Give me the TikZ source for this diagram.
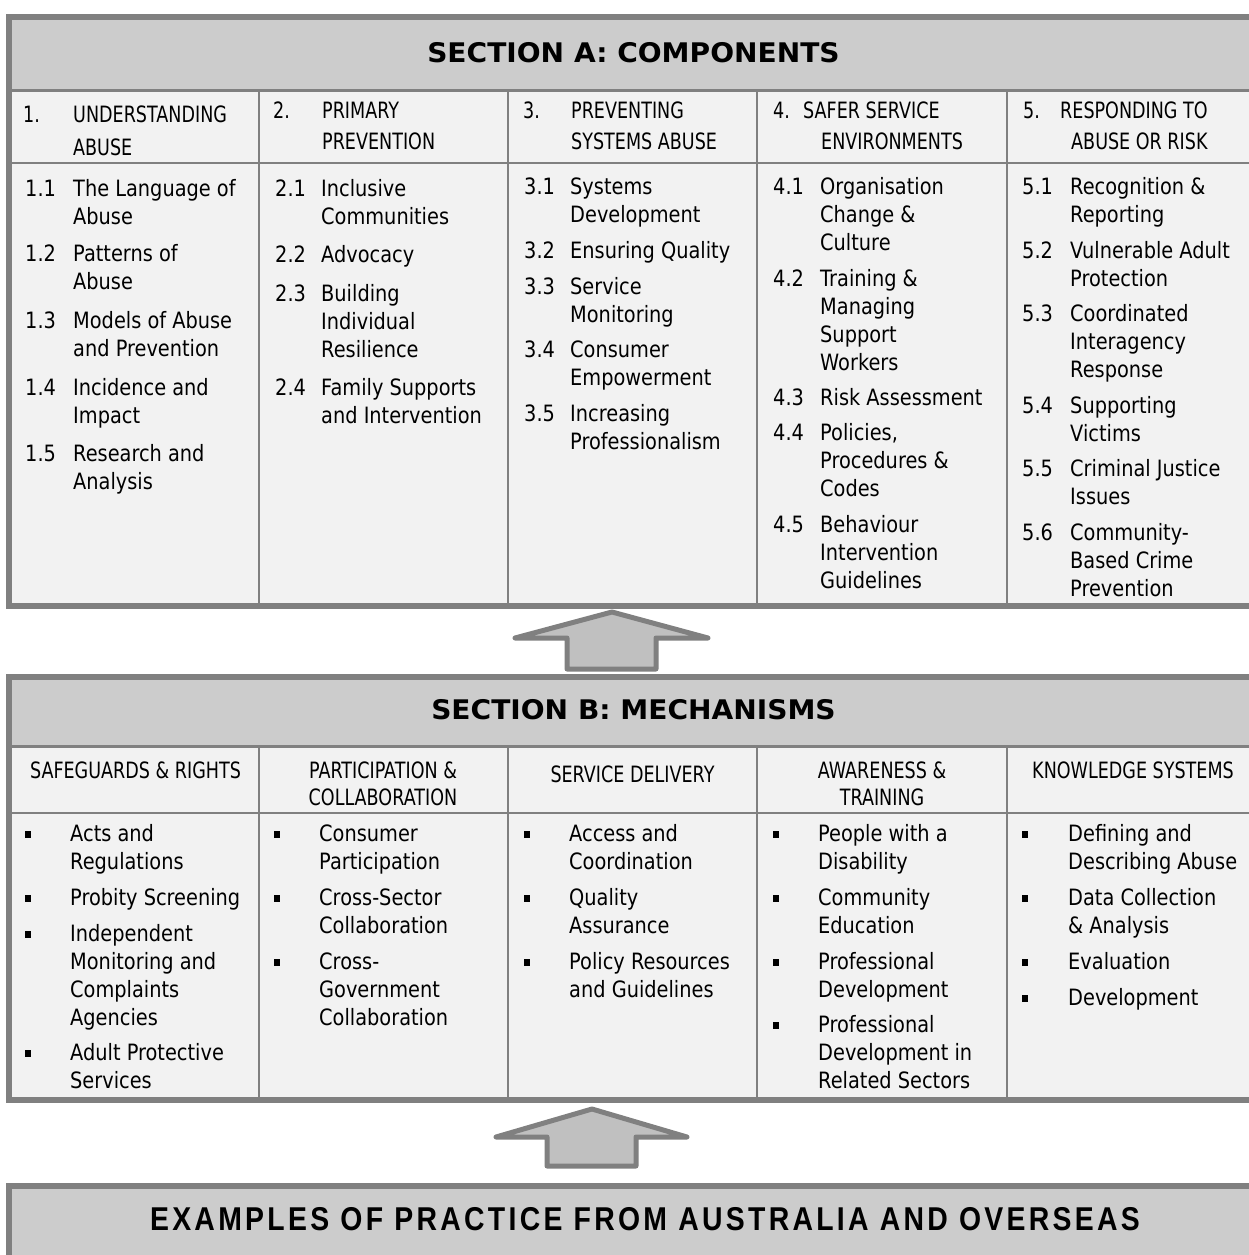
\documentclass[tikz,border=0pt]{standalone}
\usepackage{fontspec}
\setmainfont{DejaVu Sans}
\newfontfamily\bodyf{DejaVu Sans}[FakeStretch=0.86]
\newfontfamily\headf{DejaVu Sans}[FakeStretch=0.78]
\newfontfamily\titlef{DejaVu Sans}[FakeStretch=1.04]
\newfontfamily\exf{Liberation Sans}[FakeStretch=0.86,LetterSpace=10]

\definecolor{rim}{HTML}{808080}
\definecolor{band}{HTML}{CCCCCC}
\definecolor{cell}{HTML}{F2F2F2}
\definecolor{arrowfill}{HTML}{C0C0C0}

\tikzset{
  rimline/.style={draw=rim, line width=6pt},
  gridline/.style={draw=rim, line width=2pt},
  uparrow/.style={draw=rim, fill=arrowfill, line width=5pt, line join=round},
  bodytxt/.style={anchor=base west, inner sep=0pt, font=\bodyf\fontsize{22.5}{27}\selectfont},
  headtxt/.style={anchor=base west, inner sep=0pt, font=\headf\fontsize{22.5}{27}\selectfont},
  headmid/.style={headtxt, anchor=base},
  titletxt/.style={anchor=base, inner sep=0pt, font=\titlef\bfseries\fontsize{27}{32}\selectfont},
  extxt/.style={anchor=base, inner sep=0pt, font=\exf\bfseries\fontsize{33}{38}\selectfont},
}

% numbered entry: name, x of number, x of text, first baseline, number, lines
\newcommand\compitem[6]{%
  \node[bodytxt] (#1) at (#2,#4) {#5};
  \foreach \rowtext [count=\k from 0] in {#6} {
    \node[bodytxt] (#1-\k) at (#3,{#4+28*\k}) {\rowtext};
  }%
}
% bulleted entry: name, x of bullet, x of text, first baseline, lines
\newcommand\mechitem[5]{%
  \node[bodytxt] (#1) at (#2,#4) {\rule[3.5pt]{6pt}{6.5pt}};
  \foreach \rowtext [count=\k from 0] in {#5} {
    \node[bodytxt] (#1-\k) at (#3,{#4+28*\k}) {\rowtext};
  }%
}

\begin{document}
\begin{tikzpicture}[x=1pt, y=-1pt]
\useasboundingbox (0,0) rectangle (1249,1255);
\clip (0,0) rectangle (1249,1255);

% ---------- Section A frame ----------
\fill[cell] (9,17) rectangle (1258,605.5);
\fill[band] (9,17) rectangle (1258,90.5);
\draw[gridline, line width=2.5pt] (9,90.5) -- (1258,90.5);
\draw[gridline] (9,163) -- (1258,163);
\foreach \cx in {258.5,508,757,1007}
  \draw[gridline] (\cx,90.5) -- (\cx,605.5);
\draw[rimline] (9,17) rectangle (1258,605.5);

% ---------- Section B frame ----------
\fill[cell] (9,677) rectangle (1258,1100);
\fill[band] (9,677) rectangle (1258,746.5);
\draw[gridline, line width=2.5pt] (9,746.5) -- (1258,746.5);
\draw[gridline] (9,813) -- (1258,813);
\foreach \cx in {258.5,508,757,1007}
  \draw[gridline] (\cx,746.5) -- (\cx,1100);
\draw[rimline] (9,677) rectangle (1258,1100);

% ---------- bottom band ----------
\fill[band] (9,1185.5) rectangle (1258,1275);
\draw[rimline] (9,1185.5) rectangle (1258,1275);

% ---------- arrows ----------
\draw[uparrow] (612,612) -- (708,638) -- (656,638) -- (656,669) -- (567,669)
  -- (567,638) -- (515,638) -- cycle;
\draw[uparrow] (592,1109) -- (687,1137) -- (636,1137) -- (636,1166) -- (547,1166)
  -- (547,1137) -- (496,1137) -- cycle;

% ---------- titles ----------
\node[titletxt] (titleA) at (633.5,63) {SECTION A: COMPONENTS};
\node[titletxt] (titleB) at (633.5,719) {SECTION B: MECHANISMS};
\node[extxt] (examples) at (645,1230) {EXAMPLES OF PRACTICE FROM AUSTRALIA AND OVERSEAS};

% ---------- Section A column heads ----------
\node[headtxt] (h1n) at (23,122) {1.};
\node[headtxt] (h1a) at (73,122) {UNDERSTANDING};
\node[headtxt] (h1b) at (73,155) {ABUSE};
\node[headtxt] (h2n) at (273,118) {2.};
\node[headtxt] (h2a) at (322,118) {PRIMARY};
\node[headtxt] (h2b) at (322,149) {PREVENTION};
\node[headtxt] (h3n) at (523,118) {3.};
\node[headtxt] (h3a) at (571,118) {PREVENTING};
\node[headtxt] (h3b) at (571,149) {SYSTEMS ABUSE};
\node[headtxt] (h4n) at (773,118) {4.};
\node[headtxt] (h4a) at (803,118) {SAFER SERVICE};
\node[headtxt] (h4b) at (821,149) {ENVIRONMENTS};
\node[headtxt] (h5n) at (1023,118) {5.};
\node[headtxt] (h5a) at (1060,118) {RESPONDING TO};
\node[headtxt] (h5b) at (1071,149) {ABUSE OR RISK};

% ---------- Section A entries ----------
\compitem{a11}{25}{73}{196}{1.1}{The Language of, Abuse}
\compitem{a12}{25}{73}{261}{1.2}{Patterns of, Abuse}
\compitem{a13}{25}{73}{328}{1.3}{Models of Abuse, and Prevention}
\compitem{a14}{25}{73}{395}{1.4}{Incidence and, Impact}
\compitem{a15}{25}{73}{461}{1.5}{Research and, Analysis}

\compitem{a21}{275}{321}{196}{2.1}{Inclusive, Communities}
\compitem{a22}{275}{321}{262}{2.2}{Advocacy}
\compitem{a23}{275}{321}{301}{2.3}{Building, Individual, Resilience}
\compitem{a24}{275}{321}{395}{2.4}{Family Supports, and Intervention}

\compitem{a31}{524}{570}{194}{3.1}{Systems, Development}
\compitem{a32}{524}{570}{258}{3.2}{Ensuring Quality}
\compitem{a33}{524}{570}{294}{3.3}{Service, Monitoring}
\compitem{a34}{524}{570}{357}{3.4}{Consumer, Empowerment}
\compitem{a35}{524}{570}{421}{3.5}{Increasing, Professionalism}

\compitem{a41}{773}{820}{194}{4.1}{Organisation, Change \&, Culture}
\compitem{a42}{773}{820}{286}{4.2}{Training \&, Managing, Support, Workers}
\compitem{a43}{773}{820}{405}{4.3}{Risk Assessment}
\compitem{a44}{773}{820}{440}{4.4}{{Policies,}, Procedures \&, Codes}
\compitem{a45}{773}{820}{532}{4.5}{Behaviour, Intervention, Guidelines}

\compitem{a51}{1022}{1070}{194}{5.1}{Recognition \&, Reporting}
\compitem{a52}{1022}{1070}{258}{5.2}{Vulnerable Adult, Protection}
\compitem{a53}{1022}{1070}{321}{5.3}{Coordinated, Interagency, Response}
\compitem{a54}{1022}{1070}{413}{5.4}{Supporting, Victims}
\compitem{a55}{1022}{1070}{476}{5.5}{Criminal Justice, Issues}
\compitem{a56}{1022}{1070}{540}{5.6}{Community-, Based Crime, Prevention}

% ---------- Section B column heads ----------
\node[headmid] (m1) at (135.5,778) {SAFEGUARDS \& RIGHTS};
\node[headmid] (m2a) at (383,778) {PARTICIPATION \&};
\node[headmid] (m2b) at (383,805) {COLLABORATION};
\node[headmid] (m3) at (632.5,782) {SERVICE DELIVERY};
\node[headmid] (m4a) at (882,778) {AWARENESS \&};
\node[headmid] (m4b) at (882,805) {TRAINING};
\node[headmid] (m5) at (1133,778) {KNOWLEDGE SYSTEMS};

% ---------- Section B entries ----------
\mechitem{b11}{25}{70}{841}{Acts and, Regulations}
\mechitem{b12}{25}{70}{905}{Probity Screening}
\mechitem{b13}{25}{70}{941}{Independent, Monitoring and, Complaints, Agencies}
\mechitem{b14}{25}{70}{1060}{Adult Protective, Services}

\mechitem{b21}{274}{319}{841}{Consumer, Participation}
\mechitem{b22}{274}{319}{905}{Cross-Sector, Collaboration}
\mechitem{b23}{274}{319}{969}{Cross-, Government, Collaboration}

\mechitem{b31}{524}{569}{841}{Access and, Coordination}
\mechitem{b32}{524}{569}{905}{Quality, Assurance}
\mechitem{b33}{524}{569}{969}{Policy Resources, and Guidelines}

\mechitem{b41}{773}{818}{841}{People with a, Disability}
\mechitem{b42}{773}{818}{905}{Community, Education}
\mechitem{b43}{773}{818}{969}{Professional, Development}
\mechitem{b44}{773}{818}{1032}{Professional, Development in, Related Sectors}

\mechitem{b51}{1022}{1068}{841}{Defining and, Describing Abuse}
\mechitem{b52}{1022}{1068}{905}{Data Collection, \& Analysis}
\mechitem{b53}{1022}{1068}{969}{Evaluation}
\mechitem{b54}{1022}{1068}{1005}{Development}
\end{tikzpicture}
\end{document}
